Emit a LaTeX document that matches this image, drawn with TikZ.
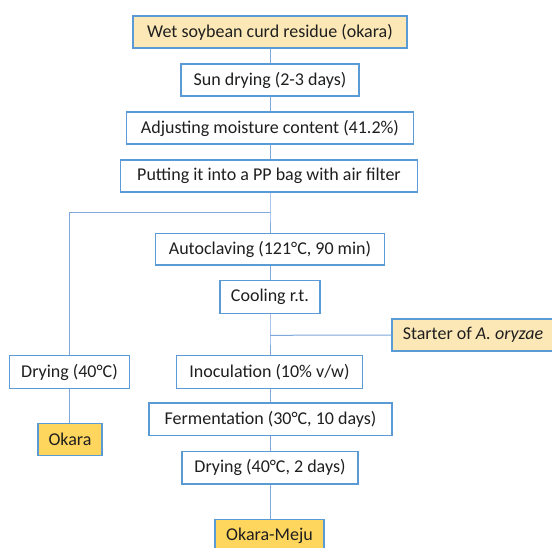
\documentclass[tikz,border=0pt]{standalone}
\usepackage{fontspec}
\setmainfont{Carlito}
\definecolor{boxblue}{HTML}{5B9BD5}
\definecolor{lineblue}{HTML}{7FA8DC}
\definecolor{lightyel}{HTML}{FCE8B6}
\definecolor{goldyel}{HTML}{FED65E}
\begin{document}
\begin{tikzpicture}[x=1pt,y=-1pt,
  stepbox/.style={draw=boxblue,line width=1.4pt,fill=white,inner sep=0pt,
    minimum height=32.5pt,font=\fontsize{18}{21}\selectfont,text=black!88},
  inbox/.style={stepbox,fill=lightyel},
  outbox/.style={stepbox,fill=goldyel},
  conn/.style={draw=lineblue,line width=1pt}]
\clip (0,0) rectangle (552,547);
\fill[white] (0,0) rectangle (552,547);
\node[inbox,minimum width=274pt,minimum height=32pt] (b1) at (270,32) {Wet soybean curd residue (okara)};
\node[stepbox,minimum width=178pt,minimum height=32pt] (b2) at (270,80) {Sun drying (2-3 days)};
\node[stepbox,minimum width=287pt,minimum height=32pt] (b3) at (270,128) {Adjusting moisture content (41.2\%)};
\node[stepbox,minimum width=297pt,minimum height=32pt] (b4) at (269,176) {Putting it into a PP bag with air filter};
\node[stepbox,minimum width=229pt,minimum height=31.7pt] (auto) at (270,249.2) {Autoclaving (121°C, 90 min)};
\node[stepbox,minimum width=100pt] (cool) at (270,297) {Cooling r.t.};
\node[inbox,minimum width=162pt,minimum height=32pt] (start) at (473,335) {Starter of \textit{A. oryzae}};
\node[stepbox,minimum width=120pt] (dry1) at (69.5,372) {Drying (40°C)};
\node[stepbox,minimum width=185.5pt] (inoc) at (269.5,372) {Inoculation (10\% v/w)};
\node[outbox,minimum width=64pt] (okara) at (70,439.5) {Okara};
\node[stepbox,minimum width=243pt] (ferm) at (270.5,419.3) {Fermentation (30°C, 10 days)};
\node[stepbox,minimum width=176pt] (dry2) at (270,467.8) {Drying (40°C, 2 days)};
\node[outbox,minimum width=109pt,minimum height=33pt] (meju) at (269.5,535.8) {Okara-Meju};
\coordinate (j1) at (270,212.3);
\coordinate (j2) at (270,335.3);
\draw[conn] (b1.south -| j1) -- (b2.north -| j1);
\draw[conn] (b2.south -| j1) -- (b3.north -| j1);
\draw[conn] (b3.south -| j1) -- (b4.north -| j1);
\draw[conn] (b4.south -| j1) -- (j1) -- (auto.north -| j1);
\draw[conn] (j1) -| (dry1.north);
\draw[conn] (auto.south -| j1) -- (cool.north -| j1);
\draw[conn] (cool.south -| j1) -- (j2) -- (inoc.north -| j1);
\draw[conn] (start.west) -- (j2);
\draw[conn] (dry1.south) -- (okara.north -| dry1.south);
\draw[conn] (inoc.south -| j1) -- (ferm.north -| j1);
\draw[conn] (ferm.south -| j1) -- (dry2.north -| j1);
\draw[conn] (dry2.south -| j1) -- (meju.north -| j1);
\end{tikzpicture}
\end{document}
